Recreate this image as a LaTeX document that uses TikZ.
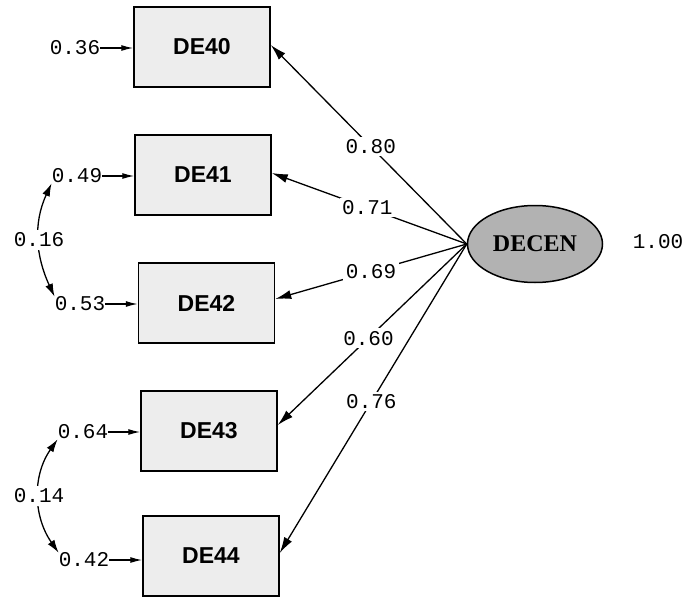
\documentclass[tikz,border=0pt]{standalone}
\usepackage{fontspec}
\setmainfont{Liberation Serif}
\newfontfamily\monofont{Liberation Mono}
\newfontfamily\boxfont{Liberation Sans}
\usetikzlibrary{arrows.meta,shapes.geometric}
\begin{document}
\begin{tikzpicture}[x=1pt,y=1pt,
  obs/.style={draw,line width=1.5pt,fill=gray!14,minimum width=136pt,minimum height=80pt,inner sep=0pt,
    font=\boxfont\bfseries\fontsize{23}{23}\selectfont},
  lat/.style={draw,line width=1.5pt,ellipse,fill=gray!60,minimum width=135pt,minimum height=77pt,inner sep=0pt,
    font=\bfseries\fontsize{24}{24}\selectfont},
  num/.style={font=\monofont\fontsize{21}{21}\selectfont,inner sep=0pt},
  lab/.style={num,fill=white,inner sep=2.5pt},
  load/.style={line width=1.3pt,-{Latex[length=16pt,width=9pt]}},
  err/.style={line width=1.3pt,-{Latex[length=12pt,width=6pt]}},
  cov/.style={line width=1.3pt,{Latex[length=13pt,width=8pt]}-{Latex[length=13pt,width=8pt]}}]
\useasboundingbox (0,0) rectangle (691,-597);

\node[obs] (de40) at (202,-47) {DE40};
\node[obs] (de41) at (203,-175) {DE41};
\node[obs] (de42) at (206.5,-303) {DE42};
\node[obs] (de43) at (209,-431) {DE43};
\node[obs] (de44) at (211,-556) {DE44};

\node[lat] (decen) at (535,-244) {DECEN};
\node[num] (var) at (658,-242) {1.00};

\node[num] (e40) at (75,-48) {0.36};
\node[num] (e41) at (77,-176) {0.49};
\node[num] (e42) at (80,-304) {0.53};
\node[num] (e43) at (83,-432) {0.64};
\node[num] (e44) at (84,-560) {0.42};

\draw[err] (e40) -- (e40 -| de40.west);
\draw[err] (e41) -- (e41 -| de41.west);
\draw[err] (e42) -- (e42 -| de42.west);
\draw[err] (e43) -- (e43 -| de43.west);
\draw[err] (e44) -- (e44 -| de44.west);

\draw[cov] (e41.south west) to[out=245,in=115] node[lab] {0.16} (e42.north west);
\draw[cov] (e43.south west) to[out=235,in=125] node[lab] {0.14} (e44.north west);

\draw[load] (decen.west) -- node[lab,pos=0.49] {0.80} ([yshift=2pt]de40.east);
\draw[load] (decen.west) -- node[lab,pos=0.51] {0.71} ([yshift=2pt]de41.east);
\draw[load] (decen.west) -- node[lab,pos=0.5] {0.69} ([yshift=4pt]de42.east);
\draw[load] (decen.west) -- node[lab,pos=0.52] {0.60} ([yshift=6pt]de43.east);
\draw[load] (decen.west) -- node[lab,pos=0.51] {0.76} ([yshift=3pt]de44.east);
\end{tikzpicture}
\end{document}
